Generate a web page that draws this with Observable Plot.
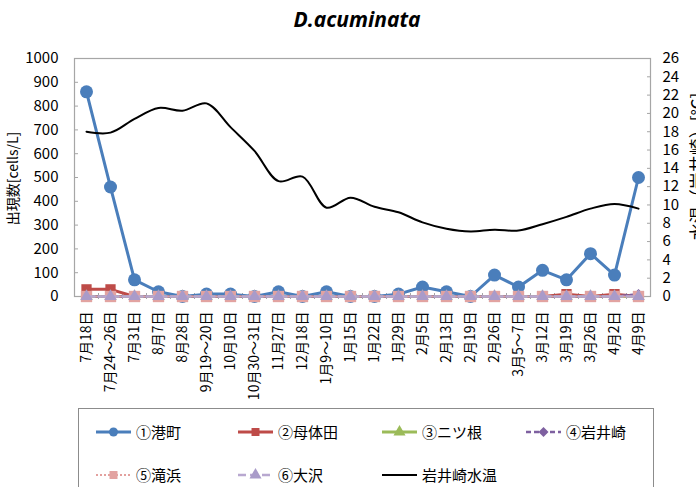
<!DOCTYPE html>
<html>
<head>
<meta charset="utf-8">
<script src="https://cdn.jsdelivr.net/npm/d3@7"></script>
<script src="https://cdn.jsdelivr.net/npm/@observablehq/plot@0.6"></script>
<style>
  html, body { margin: 0; padding: 0; background: white; }
  #wrap { position: relative; width: 696px; height: 487px; overflow: hidden; font-family: 'Noto Sans CJK JP', sans-serif; color: #000; }
  #title { position: absolute; left: 357px; top: 5px; transform: translateX(-50%); font-family: 'Open Sans', sans-serif; font-weight: bold; font-style: italic; font-size: 21px; white-space: nowrap; }
  #plot { position: absolute; left: 0; top: 0; }
  #legend { position: absolute; left: 78px; top: 408px; width: 576px; height: 100px; border: 1px solid #8c8c8c; box-sizing: border-box; }
  .li { position: absolute; display: flex; align-items: center; font-size: 15px; white-space: nowrap; }
  .li svg { margin-right: 4px; }
</style>
</head>
<body>
<div id="wrap">
  <div id="plot"></div>
  <div id="title">D.acuminata</div>
  <div id="legend"></div>
</div>
<script>
// ---- data ----
const dates = ["7月18日","7月24～26日","7月31日","8月7日","8月28日","9月19～20日","10月10日","10月30～31日","11月27日","12月18日","1月9～10日","1月15日","1月22日","1月29日","2月5日","2月13日","2月19日","2月26日","3月5～7日","3月12日","3月19日","3月26日","4月2日","4月9日"];
const minatomachi = [860,460,70,20,0,10,10,0,20,0,20,0,0,10,40,20,0,90,40,110,70,180,90,500];
const motaida     = [30,30,0,0,0,0,0,0,0,0,0,0,0,0,0,0,0,0,0,0,10,0,10,0];
const futatsune   = [0,0,0,0,0,0,0,0,0,0,0,0,0,0,0,0,0,0,0,0,0,0,0,0];
const iwaisaki    = [0,0,0,0,0,0,0,0,0,0,0,0,0,0,0,0,0,0,0,0,0,0,0,10];
const takihama    = [0,0,0,0,0,0,0,0,0,0,0,0,0,0,0,0,0,0,0,0,0,0,0,0];
const osawa       = [0,0,0,0,0,0,0,0,0,0,0,0,0,0,0,0,0,0,0,0,0,0,0,0];
const waterTemp   = [18.0,17.9,19.4,20.6,20.3,21.1,18.5,15.9,12.6,13.1,9.7,10.8,9.8,9.2,8.1,7.4,7.1,7.3,7.2,7.9,8.7,9.6,10.1,9.6];
const leftTicks = [0,100,200,300,400,500,600,700,800,900,1000];
const rightTicks = [0,2,4,6,8,10,12,14,16,18,20,22,24,26];
const leftTitle = "出現数[cells/L]";
const rightTitle = "水温（岩井崎）[℃]";
const Y2MAX = 26, Y1MAX = 1000;

const rows = arr => arr.map((v, i) => ({date: dates[i], v}));
const toLeft = t => t * Y1MAX / Y2MAX;

const series = [
  {name: "①港町",  vals: minatomachi, color: "#4a7ebb", dash: null,  sym: "circle",   r: 6.5, fill: "#4a7ebb", w: 3,   lr: 4.5},
  {name: "②母体田", vals: motaida,     color: "#be4b48", dash: null,  sym: "square",   r: 5.8, fill: "#be4b48", w: 3,   lr: 4.5},
  {name: "③ニツ根", vals: futatsune,   color: "#9bbb59", dash: null,  sym: "triangle", r: 4.5, fill: "#9bbb59", w: 3,   lr: 4.5},
  {name: "④岩井崎", vals: iwaisaki,    color: "#7e60a0", dash: "5,3", sym: "diamond2", r: 4.5, fill: "#7e60a0", w: 2.5, lr: 4.5},
  {name: "⑤滝浜",  vals: takihama,    color: "#e3a09e", dash: "2,2", sym: "square",   r: 6.4, fill: "#e2a3a1", w: 2,   lr: 4.5},
  {name: "⑥大沢",  vals: osawa,       color: "#b8a8d0", dash: "8,4", sym: "triangle", r: 4.6, fill: "#a99bc9", w: 2.5, lr: 4.5}
];

const marks = [];
marks.push(Plot.frame({stroke: "#a6a6a6", strokeWidth: 1.2}));
marks.push(Plot.ruleX(dates.slice(0, -1), {x: d => d, dx: 12, y1: 0, y2: 0, insetTop: -3, insetBottom: -3, stroke: "#a6a6a6"}));
for (const s of series) {
  marks.push(Plot.line(rows(s.vals), {x: "date", y: "v", stroke: s.color, strokeWidth: s.w, strokeDasharray: s.dash}));
  marks.push(Plot.dot(rows(s.vals), {x: "date", y: "v", symbol: s.sym, r: s.r, fill: s.fill, stroke: "none"}));
}
marks.push(Plot.line(rows(waterTemp), {x: "date", y: d => toLeft(d.v), curve: "catmull-rom", stroke: "#000", strokeWidth: 2}));
// left axis
marks.push(Plot.axisY(leftTicks, {anchor: "left", tickSize: 0, tickPadding: 16, fontSize: 15, label: null, tickFormat: d => String(d)}));
marks.push(Plot.axisY(leftTicks, {anchor: "left", tickSize: 4, text: null, dx: 4, stroke: "#a6a6a6", label: null}));
// right axis (water temperature)
marks.push(Plot.axisY(rightTicks.map(toLeft), {anchor: "right", tickSize: 0, tickPadding: 12, fontSize: 15, label: null, tickFormat: d => String(Math.round(d * Y2MAX / Y1MAX))}));
marks.push(Plot.axisY(rightTicks.map(toLeft), {anchor: "right", tickSize: 4, text: null, dx: -4, stroke: "#a6a6a6", label: null}));
// axis titles
marks.push(Plot.text([leftTitle], {text: d => d, frameAnchor: "left", textAnchor: "middle", dx: -61, dy: 1, rotate: -90, fontSize: 14}));
marks.push(Plot.text([rightTitle], {text: d => d, frameAnchor: "right", textAnchor: "middle", dx: 48, dy: -11, rotate: -90, fontSize: 17}));
// x axis
marks.push(Plot.axisX({tickSize: 0, tickPadding: 15, tickRotate: -90, fontSize: 14, label: null}));

const chart = Plot.plot({
  width: 696, height: 405,
  marginTop: 58, marginBottom: 109, marginLeft: 74, marginRight: 46,
  style: {fontFamily: "'Noto Sans CJK JP', sans-serif", color: "#000", background: "transparent", overflow: "visible"},
  x: {type: "point", domain: dates, padding: 0.5},
  y: {domain: [0, Y1MAX]},
  marks
});
document.getElementById("plot").appendChild(chart);

// legend
const symTypes = {circle: d3.symbolCircle, square: d3.symbolSquare, triangle: d3.symbolTriangle, diamond2: d3.symbolDiamond2};
const legend = document.getElementById("legend");
const legItems = series.concat([{name: "岩井崎水温", color: "#000", dash: null, sym: null, w: 2}]);
const pos = [[17,23],[159,23],[303,23],[447,23],[17,66],[159,66],[303,66]];
legItems.forEach((s, i) => {
  const div = document.createElement("div");
  div.className = "li";
  div.style.left = pos[i][0] + "px";
  div.style.top = (pos[i][1] - 11) + "px";
  const svg = d3.create("svg").attr("width", 36).attr("height", 14);
  svg.append("line").attr("x1", 0).attr("x2", 35).attr("y1", 7).attr("y2", 7)
    .attr("stroke", s.color).attr("stroke-width", s.w).attr("stroke-dasharray", s.dash);
  if (s.sym) {
    const p = d3.symbol(symTypes[s.sym], Math.PI * s.lr * s.lr)();
    svg.append("path").attr("d", p).attr("transform", "translate(17.5,7)").attr("fill", s.fill);
  }
  div.appendChild(svg.node());
  const t = document.createElement("span");
  t.textContent = s.name;
  div.appendChild(t);
  legend.appendChild(div);
});
</script>
</body>
</html>
